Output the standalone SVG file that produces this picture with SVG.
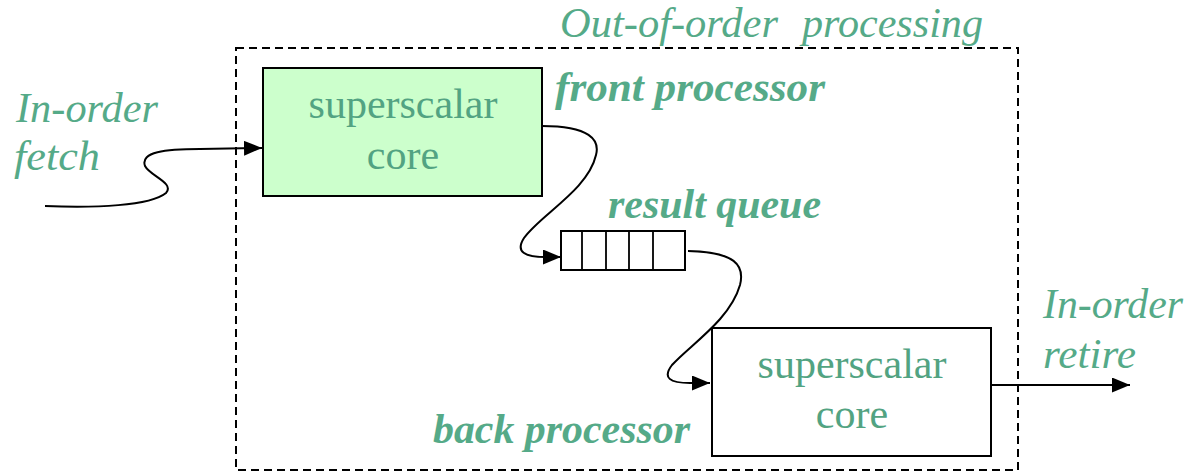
<svg xmlns="http://www.w3.org/2000/svg" width="1191" height="473" viewBox="0 0 1191 473">
  <style>
    .lbl { font-family: "Liberation Serif", "Times New Roman", serif; fill: #55aa88; }
    .it { font-style: italic; font-size: 42px; }
    .bi { font-style: italic; font-weight: bold; font-size: 42px; }
    .core { font-size: 42px; text-anchor: middle; fill: #52a382; }
    .box { stroke: #000; stroke-width: 2; }
    .wire { fill: none; stroke: #000; stroke-width: 2; }
  </style>
  <defs>
    <marker id="arrow" markerUnits="userSpaceOnUse" markerWidth="19" markerHeight="16" refX="18" refY="7.5" orient="auto">
      <path d="M0,0 L18,7.5 L0,15 Z" fill="#000"/>
    </marker>
  </defs>
  <rect width="1191" height="473" fill="#fff"/>

  <!-- out-of-order region -->
  <g id="ooo-region">
    <rect x="236" y="48" width="782" height="422" fill="none" stroke="#000" stroke-width="2" stroke-dasharray="8,5"/>
    <text class="lbl it" x="560" y="37" textLength="218" lengthAdjust="spacingAndGlyphs">Out-of-order</text>
    <text class="lbl it" x="802" y="37" textLength="181" lengthAdjust="spacingAndGlyphs">processing</text>
  </g>

  <!-- front processor -->
  <g id="front-core">
    <rect class="box" x="263" y="68" width="279" height="128" fill="#ccffcc"/>
    <text class="lbl core" x="403" y="118">superscalar</text>
    <text class="lbl core" x="403" y="169">core</text>
    <text class="lbl bi" x="555" y="101" textLength="270" lengthAdjust="spacingAndGlyphs">front processor</text>
  </g>

  <!-- result queue -->
  <g id="result-queue">
    <rect class="box" x="561" y="231" width="124" height="39" fill="#fff"/>
    <path d="M582,231 V270 M606,231 V270 M629,231 V270 M653,231 V270" stroke="#000" stroke-width="1.8"/>
    <text class="lbl bi" x="608" y="218" textLength="213" lengthAdjust="spacingAndGlyphs">result queue</text>
  </g>

  <!-- back processor -->
  <g id="back-core">
    <rect class="box" x="712" y="328" width="279" height="128" fill="#fff"/>
    <text class="lbl core" x="852" y="378">superscalar</text>
    <text class="lbl core" x="852" y="428">core</text>
    <text class="lbl bi" x="433" y="443" textLength="257" lengthAdjust="spacingAndGlyphs">back processor</text>
  </g>

  <!-- fetch / retire -->
  <g id="fetch">
    <text class="lbl it" x="16" y="122" textLength="142" lengthAdjust="spacingAndGlyphs">In-order</text>
    <text class="lbl it" x="14" y="170" textLength="86" lengthAdjust="spacingAndGlyphs">fetch</text>
  </g>
  <g id="retire">
    <text class="lbl it" x="1043" y="318" textLength="140" lengthAdjust="spacingAndGlyphs">In-order</text>
    <text class="lbl it" x="1043" y="368" textLength="93" lengthAdjust="spacingAndGlyphs">retire</text>
  </g>

  <!-- connectors -->
  <g id="connectors">
    <path class="wire" marker-end="url(#arrow)" d="M45,206 C95,208 150,206 166,193 C175,183 150,176 145,166 C140,152 165,149 200,149 L262,148"/>
    <path class="wire" marker-end="url(#arrow)" d="M542,126 C590,126 600,140 596,155 C588,190 540,215 524,238 C515,252 525,257 545,257 L561,257"/>
    <path class="wire" marker-end="url(#arrow)" d="M688,251 C735,252 745,265 740,285 C730,320 690,345 672,365 C662,378 670,383 690,383 L710,383"/>
    <path class="wire" marker-end="url(#arrow)" d="M991,385 L1130,385"/>
  </g>
</svg>
